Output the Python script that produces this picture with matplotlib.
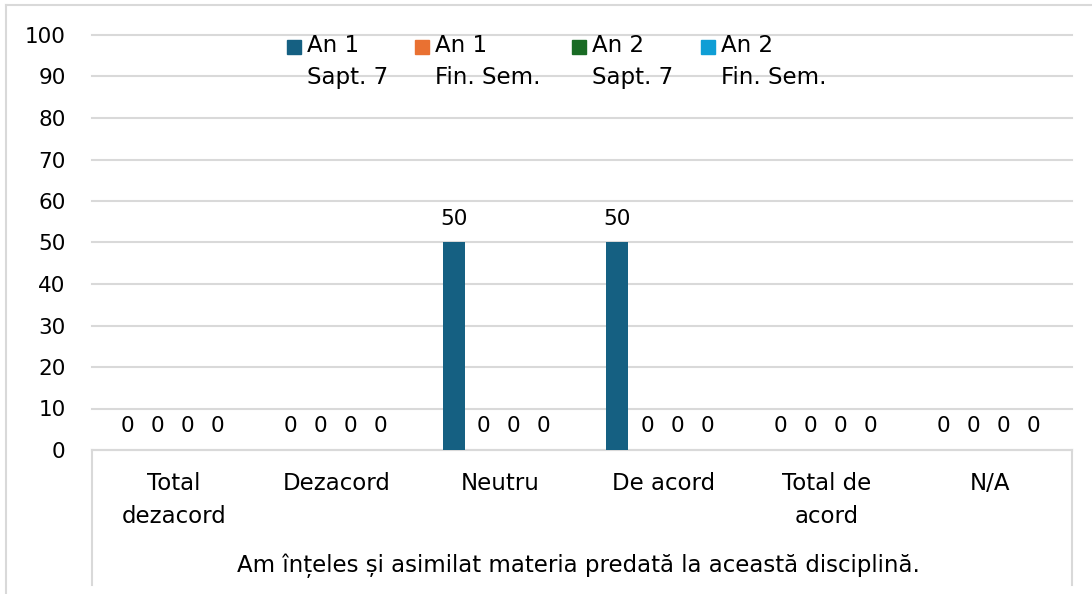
import numpy as np
import matplotlib.pyplot as plt
from matplotlib.patches import Rectangle
from matplotlib.lines import Line2D

plt.rcParams['font.family'] = ['DejaVu Sans']

categories = ["Total\ndezacord", "Dezacord", "Neutru", "De acord", "Total de\nacord", "N/A"]
series_names = ["An 1\nSapt. 7", "An 1\nFin. Sem.", "An 2\nSapt. 7", "An 2\nFin. Sem."]
an1_sapt7 = [0, 0, 50, 50, 0, 0]
an1_fin = [0, 0, 0, 0, 0, 0]
an2_sapt7 = [0, 0, 0, 0, 0, 0]
an2_fin = [0, 0, 0, 0, 0, 0]
group_label = "Am înțeles și asimilat materia predată la această disciplină."
yticks = list(range(0, 101, 10))

colors = ["#156082", "#E97132", "#196B24", "#0F9ED5"]
series = [an1_sapt7, an1_fin, an2_sapt7, an2_fin]

W, H = 1092, 594
fig = plt.figure(figsize=(W / 100, H / 100), dpi=100)
ax = fig.add_axes([92 / W, 1 - 450 / H, 980 / W, 415 / H])

x = np.arange(len(categories))
step = 0.184
width = 0.135
fs_num = 15.5   # digits
fs_txt = 16.5   # words
for i, (vals, c) in enumerate(zip(series, colors)):
    pos = x + (i - 1.5) * step - 0.01
    ax.bar(pos, vals, width, color=c, zorder=3)
    for xp, v in zip(pos, vals):
        ax.annotate(f"{v}", (xp, v), xytext=(0, 10), textcoords="offset points",
                    ha="center", va="bottom", fontsize=fs_num, color="#000000")

ax.set_xlim(-0.5, len(categories) - 0.5)
ax.set_ylim(0, 100)
ax.set_yticks(yticks)
ax.set_yticklabels([str(t) for t in yticks], fontsize=fs_num)
ax.yaxis.grid(True, color="#d9d9d9", linewidth=1.5, zorder=0)
for gl in ax.get_ygridlines():
    gl.set_clip_on(False)
ax.tick_params(axis="y", length=0, pad=19)
ax.set_xticks(x)
ax.set_xticklabels(categories, fontsize=fs_txt, linespacing=1.55)
ax.tick_params(axis="x", length=0, pad=16)
for s in ["top", "right", "left"]:
    ax.spines[s].set_visible(False)
ax.spines["bottom"].set_color("#d9d9d9")
ax.spines["bottom"].set_linewidth(1.5)

# outer ticks of the multi-level category axis
for xf in (92 / W, 1072 / W):
    fig.add_artist(Line2D([xf, xf], [1 - 450 / H, 1 - 585 / H], color="#d9d9d9", lw=1.5))
fig.text(578 / W, 1 - 566 / H, group_label, ha="center", va="center", fontsize=fs_txt)

# chart frame
fig.add_artist(Line2D([6 / W, 6 / W], [0, 1 - 5 / H], color="#d9d9d9", lw=1.5))
fig.add_artist(Line2D([6 / W, 1], [1 - 5 / H, 1 - 5 / H], color="#d9d9d9", lw=1.5))

# legend: square aligned with the first label line
leg_x = [287, 415, 572, 701]
for lx, name, c in zip(leg_x, series_names, colors):
    fig.add_artist(Rectangle((lx / W, 1 - 54 / H), 14 / W, 14 / H, color=c))
    fig.text((lx + 20) / W, 1 - 34 / H, name, ha="left", va="top", fontsize=fs_txt,
             linespacing=1.5)

fig.savefig("out.png", dpi=100)
